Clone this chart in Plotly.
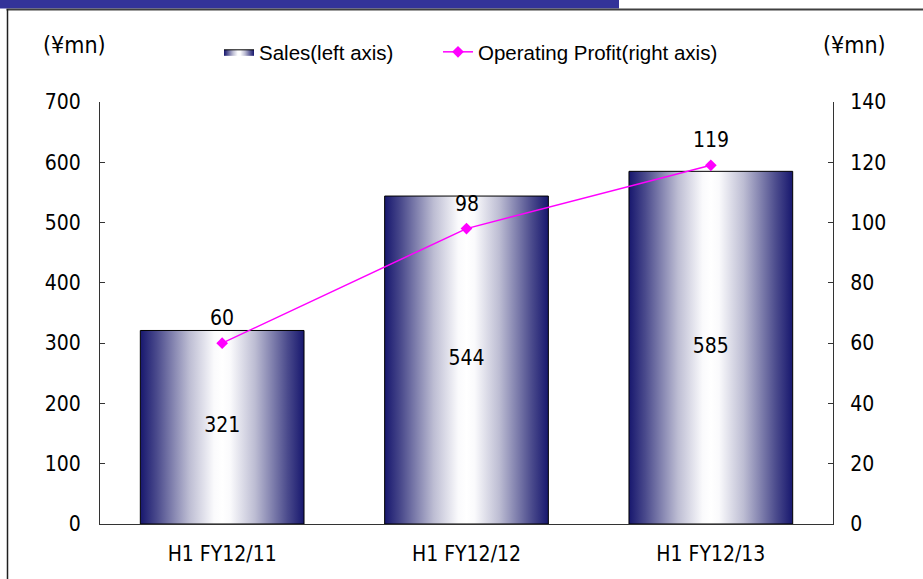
import plotly.graph_objects as go

categories = ["H1 FY12/11", "H1 FY12/12", "H1 FY12/13"]
sales = [321, 544, 585]
op_profit = [60, 98, 119]
left_ticks = [0, 100, 200, 300, 400, 500, 600, 700]
right_ticks = [0, 20, 40, 60, 80, 100, 120, 140]

W, H = 923, 579
L, R, T, B = 100, 833, 102, 524  # plot area in px


def px(x):
    return (x - L) / (R - L)


def py(y):
    return (B - y) / (B - T)


NAVY = "#17176e"
GRAD = [[0, NAVY], [0.1, "#4a4a8c"], [0.3, "#bdbdd3"], [0.45, "#fafafc"], [0.5, "#ffffff"],
        [0.55, "#fafafc"], [0.7, "#bdbdd3"], [0.9, "#4a4a8c"], [1, NAVY]]
FONT = "Liberation Sans Narrow, DejaVu Sans Condensed, Arial Narrow, sans-serif"
LFONT = dict(family="Liberation Sans, Arial, sans-serif", size=20.5, color="#000")
half = 0.335

fig = go.Figure()

for i, v in enumerate(sales):
    fig.add_trace(go.Scatter(
        x=[i - half, i + half, i + half, i - half, i - half],
        y=[0, 0, v, v, 0],
        mode="lines", fill="toself",
        fillgradient=dict(type="horizontal", colorscale=GRAD),
        line=dict(color="#000000", width=1),
        name="Sales(left axis)", legendgroup="sales", showlegend=(i == 0),
        legend="legend", hoverinfo="skip", yaxis="y",
    ))

fig.add_trace(go.Scatter(
    x=list(range(len(categories))), y=[v / 2 for v in sales],
    mode="text", text=[str(v) for v in sales],
    textfont=dict(family=FONT, size=21, color="#000"),
    showlegend=False, hoverinfo="skip", yaxis="y",
))

fig.add_trace(go.Scatter(
    x=list(range(len(categories))), y=op_profit,
    mode="lines+markers", name="Operating Profit(right axis)",
    line=dict(color="#ff00ff", width=1.5),
    marker=dict(symbol="diamond", size=9, color="#ff00ff"),
    yaxis="y2", legend="legend2",
))

annotations = []
for i, v in enumerate(op_profit):
    annotations.append(dict(x=i, y=v, xref="x", yref="y2", text=str(v),
                            showarrow=False, yshift=25,
                            font=dict(family=FONT, size=21, color="#000")))
for xc, yc in [(74, 45), (855, 45)]:
    annotations.append(dict(x=px(xc), y=py(yc), xref="paper", yref="paper", text="(¥mn)",
                            xanchor="center", yanchor="middle", showarrow=False,
                            font=dict(family=FONT, size=23, color="#000")))

shapes = [
    dict(type="rect", xref="paper", yref="paper", x0=px(-2), x1=px(619), y0=py(8.5), y1=py(-2),
         fillcolor="#333399", line=dict(width=0), layer="above"),
    dict(type="line", xref="paper", yref="paper", x0=px(6.5), x1=px(925), y0=py(9.5), y1=py(9.5),
         line=dict(color="#404040", width=2)),
    dict(type="line", xref="paper", yref="paper", x0=px(7.5), x1=px(7.5), y0=py(9), y1=py(590),
         line=dict(color="#202020", width=1.5)),
]

axis_font = dict(family=FONT, size=21, color="#000")
fig.update_layout(
    width=W, height=H,
    margin=dict(l=L, r=W - R, t=T, b=H - B, pad=0),
    paper_bgcolor="#ffffff", plot_bgcolor="#ffffff",
    showlegend=True,
    legend=dict(orientation="h", x=px(219), y=py(52), xanchor="left", yanchor="middle",
                font=LFONT, bgcolor="rgba(0,0,0,0)", itemwidth=30),
    legend2=dict(orientation="h", x=px(438), y=py(52), xanchor="left", yanchor="middle",
                 font=LFONT, bgcolor="rgba(0,0,0,0)", itemwidth=30),
    xaxis=dict(range=[-0.5, 2.5], tickmode="array", tickvals=list(range(len(categories))),
               ticktext=categories, showline=True, linecolor="#333", linewidth=1,
               ticks="", showgrid=False, zeroline=False, tickfont=axis_font,
               ticklabelstandoff=11, fixedrange=True),
    yaxis=dict(range=[0, 700], tickmode="array", tickvals=left_ticks, showline=True,
               linecolor="#333", linewidth=1, ticks="inside", ticklen=5, tickcolor="#333",
               showgrid=False, zeroline=False, tickfont=axis_font, ticklabelstandoff=14),
    yaxis2=dict(range=[0, 140], tickmode="array", tickvals=right_ticks, overlaying="y",
                side="right", showline=True, linecolor="#333", linewidth=1, ticks="inside",
                ticklen=5, tickcolor="#333", showgrid=False, zeroline=False,
                tickfont=axis_font, ticklabelstandoff=12),
    annotations=annotations, shapes=shapes,
)

fig.write_html("out.html", config={"displayModeBar": False},
               post_script="document.body.style.margin='0';")
